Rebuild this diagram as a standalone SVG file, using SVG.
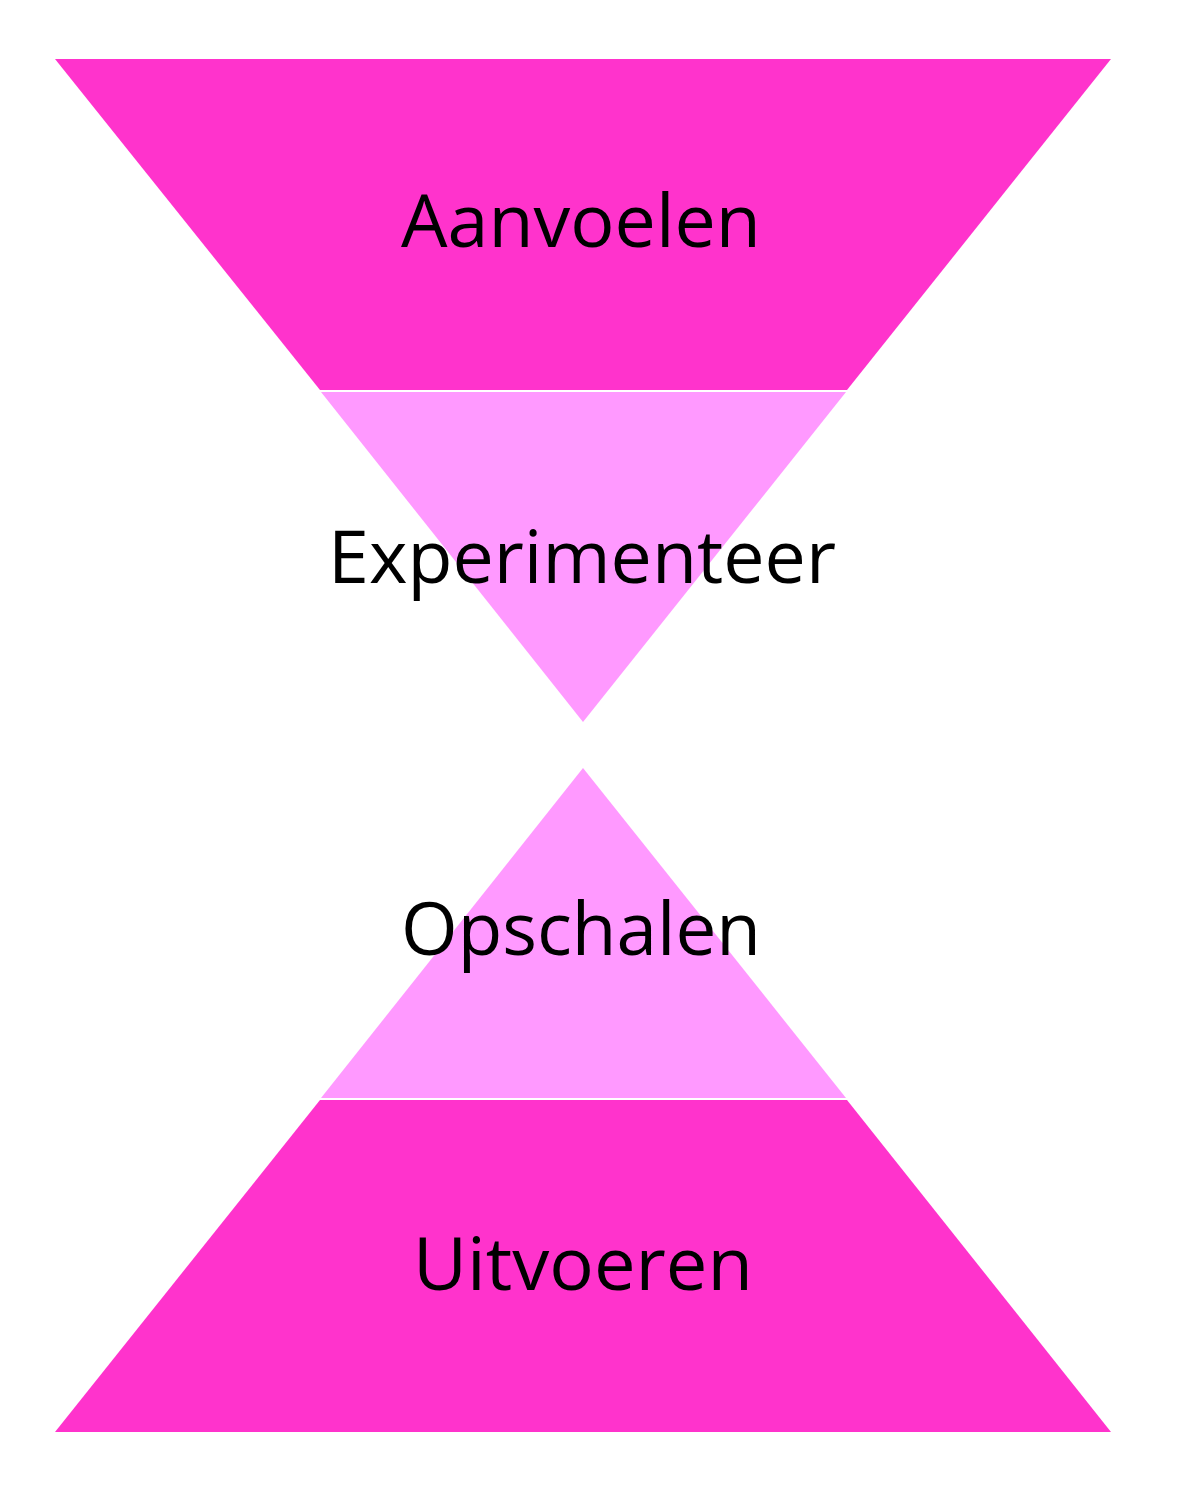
<svg xmlns="http://www.w3.org/2000/svg" width="1191" height="1500" viewBox="0 0 1191 1500">
<style>
.dark{fill:#FF33CC}
.light{fill:#FF99FF}
.lbl{font-family:"Open Sans","Noto Sans",sans-serif;font-size:74px;fill:#000;text-anchor:middle}
</style>
<rect width="1191" height="1500" fill="#fff"/>
<g id="aanvoelen">
<polygon class="dark" points="55,59 1111,59 847,390 320,390"/>
<text class="lbl" x="581" y="247" textLength="360" lengthAdjust="spacingAndGlyphs">Aanvoelen</text>
</g>
<g id="experimenteer">
<polygon class="light" points="321,392 846,392 583,722"/>
<text class="lbl" x="582" y="583" textLength="508" lengthAdjust="spacingAndGlyphs">Experimenteer</text>
</g>
<g id="opschalen">
<polygon class="light" points="583,768 846,1098 321,1098"/>
<text class="lbl" x="581" y="955" textLength="360" lengthAdjust="spacingAndGlyphs">Opschalen</text>
</g>
<g id="uitvoeren">
<polygon class="dark" points="320,1100 847,1100 1111,1432 55,1432"/>
<text class="lbl" x="583" y="1290" textLength="340" lengthAdjust="spacingAndGlyphs">Uitvoeren</text>
</g>
<g id="connectors"/>
</svg>
